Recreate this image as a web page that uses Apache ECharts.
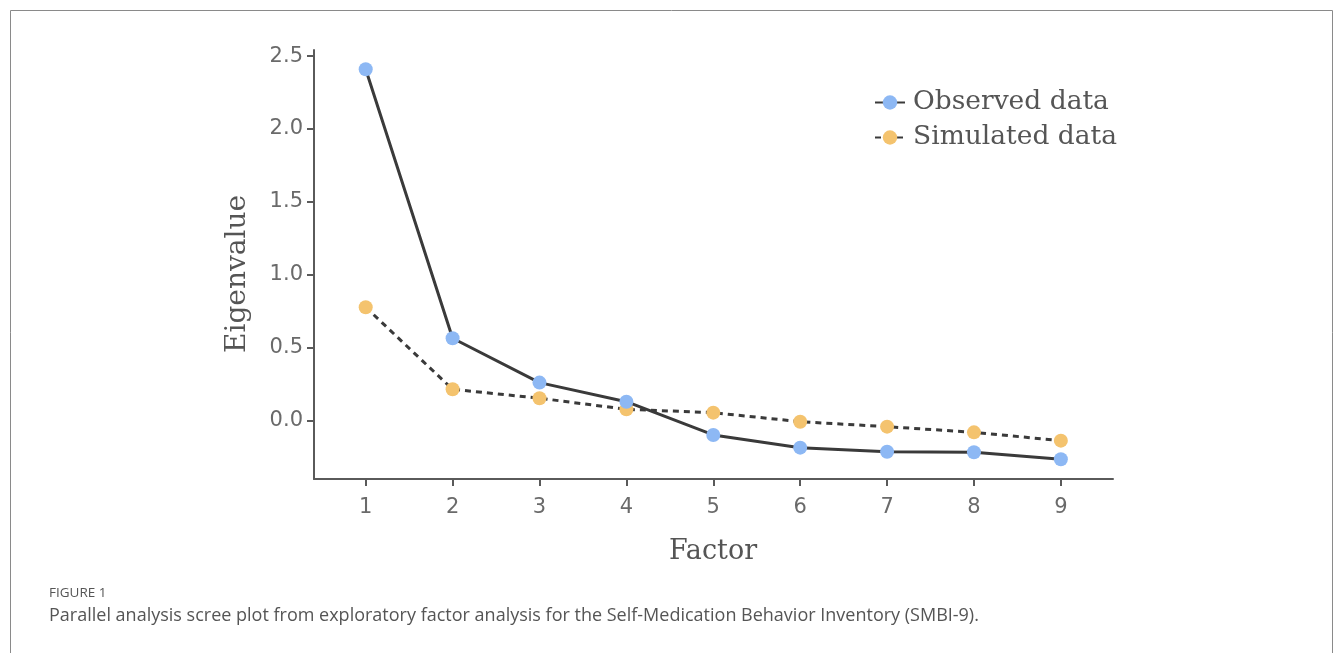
<!DOCTYPE html>
<html>
<head>
<meta charset="utf-8">
<script src="https://cdn.jsdelivr.net/npm/echarts@6/dist/echarts.min.js"></script>
<style>
html,body{margin:0;padding:0;background:#fff;}
#c{width:1335px;height:653px;}
</style>
</head>
<body>
<div id="c"></div>
<script>
const factors = [1, 2, 3, 4, 5, 6, 7, 8, 9];
const observed = [2.41, 0.565, 0.261, 0.130, -0.098, -0.185, -0.213, -0.217, -0.265];
const simulated = [0.778, 0.215, 0.154, 0.078, 0.055, -0.007, -0.041, -0.080, -0.137];
const yTicks = [0, 0.5, 1, 1.5, 2, 2.5];
const xTicks = [1, 2, 3, 4, 5, 6, 7, 8, 9];

const chart = echarts.init(document.getElementById('c'));
const axisColor = '#5a5a5a';
const labelStyle = {color: '#6a6a6a', fontFamily: 'DejaVu Sans', fontSize: 21};

chart.setOption({
  animation: false,
  grid: {left: 314, top: 50, right: 222, bottom: 174, containLabel: false},
  legend: {
    orient: 'vertical', left: 869, top: 84,
    itemWidth: 30, itemHeight: 18, itemGap: 8,
    data: ['Observed data', 'Simulated data'],
    textStyle: {fontFamily: 'DejaVu Serif', fontSize: 26.5, color: '#555', padding: [0, 0, 0, 3]}
  },
  xAxis: {
    type: 'value', min: 0.405, max: 9.6,
    axisLine: {show: true, onZero: false, lineStyle: {color: axisColor, width: 2}},
    axisTick: {show: true, customValues: xTicks, length: 7, lineStyle: {color: axisColor, width: 2}},
    axisLabel: {customValues: xTicks, margin: 18, ...labelStyle},
    splitLine: {show: false}
  },
  yAxis: {
    type: 'value', min: -0.4, max: 2.542,
    axisLine: {show: true, onZero: false, lineStyle: {color: axisColor, width: 2}},
    axisTick: {show: true, customValues: yTicks, length: 7, lineStyle: {color: axisColor, width: 2}},
    axisLabel: {customValues: yTicks, margin: 11, formatter: v => v.toFixed(1), ...labelStyle},
    splitLine: {show: false}
  },
  graphic: [
    {type: 'rect', shape: {x: 10.5, y: 10.5, width: 1322, height: 700}, style: {fill: 'none', stroke: '#8a8a8a', lineWidth: 1}, silent: true},
    {type: 'text', x: 238, y: 274, rotation: Math.PI / 2,
      style: {text: 'Eigenvalue', fontFamily: 'DejaVu Serif', fontSize: 28, fill: '#555', align: 'center', verticalAlign: 'middle'}},
    {type: 'text', x: 713, y: 552,
      style: {text: 'Factor', fontFamily: 'DejaVu Serif', fontSize: 27, fill: '#555', align: 'center', verticalAlign: 'middle'}},
    {type: 'text', x: 49, y: 593,
      style: {text: 'FIGURE 1', fontFamily: 'Open Sans', fontSize: 13.5, fill: '#555', verticalAlign: 'middle'}},
    {type: 'text', x: 49, y: 616,
      style: {text: 'Parallel analysis scree plot from exploratory factor analysis for the Self-Medication Behavior Inventory (SMBI-9).', fontFamily: 'Open Sans', fontSize: 18, fill: '#555', verticalAlign: 'middle'}}
  ],
  series: [
    {
      name: 'Simulated data', type: 'line',
      data: factors.map((f, i) => [f, simulated[i]]),
      symbol: 'circle', symbolSize: 14,
      itemStyle: {color: '#F4C36E'},
      lineStyle: {color: '#3a3a3a', width: 3, type: [6, 5]},
      z: 2
    },
    {
      name: 'Observed data', type: 'line',
      data: factors.map((f, i) => [f, observed[i]]),
      symbol: 'circle', symbolSize: 14,
      itemStyle: {color: '#8DB8F4'},
      lineStyle: {color: '#3a3a3a', width: 3},
      z: 3
    }
  ]
});
</script>
</body>
</html>
